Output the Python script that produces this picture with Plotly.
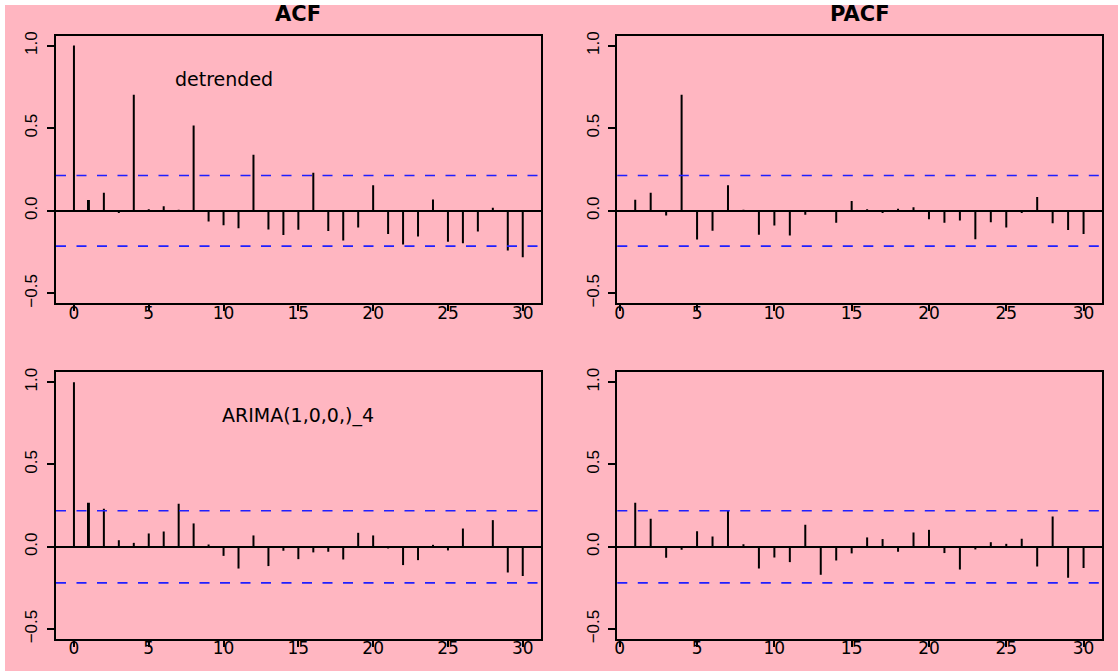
import plotly.graph_objects as go

# Sample ACF / PACF of the detrended series and of the ARIMA(1,0,0)_4 residuals
acf_lags = list(range(0, 31))
pacf_lags = list(range(1, 31))

acf_detrended = [1.0, 0.065, 0.109, -0.014, 0.703, 0.010, 0.028, 0.002, 0.517, -0.065,
                 -0.087, -0.105, 0.339, -0.113, -0.147, -0.115, 0.230, -0.123, -0.180, -0.101,
                 0.154, -0.141, -0.204, -0.156, 0.069, -0.188, -0.196, -0.125, 0.018, -0.240,
                 -0.281]
pacf_detrended = [0.067, 0.109, -0.028, 0.703, -0.174, -0.121, 0.154, 0.006, -0.145, -0.089,
                  -0.149, -0.024, -0.002, -0.073, 0.059, 0.010, -0.014, 0.012, 0.022, -0.051,
                  -0.073, -0.059, -0.172, -0.069, -0.101, -0.014, 0.083, -0.075, -0.117, -0.141]
acf_arima = [1.0, 0.267, 0.231, 0.040, 0.024, 0.081, 0.093, 0.261, 0.142, 0.014,
             -0.055, -0.132, 0.069, -0.117, -0.024, -0.075, -0.034, -0.030, -0.077, 0.085,
             0.069, -0.010, -0.111, -0.081, 0.012, -0.022, 0.111, -0.002, 0.162, -0.156,
             -0.178]
pacf_arima = [0.267, 0.170, -0.067, -0.018, 0.095, 0.063, 0.217, 0.016, -0.132, -0.065,
              -0.093, 0.134, -0.170, -0.083, -0.040, 0.057, 0.047, -0.030, 0.087, 0.103,
              -0.038, -0.138, -0.016, 0.028, 0.018, 0.049, -0.119, 0.184, -0.188, -0.128]

# 95% white-noise bounds for each row
ci_detrended = 0.214
ci_arima = 0.219

col_titles = ["ACF", "PACF"]
row_labels = ["detrended", "ARIMA(1,0,0,)_4"]
x_ticks = [0, 5, 10, 15, 20, 25, 30]
y_ticks = [-0.5, 0.0, 0.5, 1.0]

W, H = 1118, 671
PINK = "#FFB6C1"
BLUE = "#1f1fff"

# panel boxes in pixels: (left, right) per column, (top, bottom) per row
cols_px = [(56.0, 540.7), (617.3, 1101.5)]
rows_px = [(35.7, 303.3), (372.3, 639.0)]

panels = [
    (0, 0, acf_lags, acf_detrended, ci_detrended, [-1.2, 31.2]),
    (0, 1, pacf_lags, pacf_detrended, ci_detrended, [-0.16, 31.16]),
    (1, 0, acf_lags, acf_arima, ci_arima, [-1.2, 31.2]),
    (1, 1, pacf_lags, pacf_arima, ci_arima, [-0.16, 31.16]),
]

fig = go.Figure()
layout = dict(
    width=W, height=H, autosize=False,
    margin=dict(l=0, r=0, t=0, b=0),
    paper_bgcolor=PINK, plot_bgcolor=PINK,
    showlegend=False,
    font=dict(family="DejaVu Sans", color="black"),
    shapes=[], annotations=[],
)

for i, (r, c, lags, vals, ci, xr) in enumerate(panels, start=1):
    xa = "x" if i == 1 else f"x{i}"
    ya = "y" if i == 1 else f"y{i}"
    xl, xrgt = cols_px[c]
    yt, yb = rows_px[r]
    px_per_lag = (xrgt - xl) / (xr[1] - xr[0])

    fig.add_trace(go.Bar(
        x=lags, y=vals, width=2.0 / px_per_lag,
        marker=dict(color="black", line=dict(width=0)),
        xaxis=xa, yaxis=ya, hoverinfo="x+y",
    ))

    layout[f"xaxis{'' if i == 1 else i}"] = dict(
        domain=[xl / W, xrgt / W], range=xr, anchor=ya,
        tickmode="array", tickvals=x_ticks,
        ticks="outside", ticklen=6, tickwidth=1.5, tickcolor="black",
        ticklabelstandoff=-13,
        tickfont=dict(family="DejaVu Sans", size=17, color="black"),
        showline=True, mirror=True, linewidth=2, linecolor="black",
        showgrid=False, zeroline=False, automargin=False, fixedrange=True,
    )
    layout[f"yaxis{'' if i == 1 else i}"] = dict(
        domain=[(H - yb) / H, (H - yt) / H], range=[-0.56, 1.06], anchor=xa,
        tickmode="array", tickvals=y_ticks, tickformat=".1f",
        ticks="outside", ticklen=7, tickwidth=1.5, tickcolor="black",
        tickangle=-90, ticklabelstandoff=3,
        tickfont=dict(family="Liberation Sans", size=17, color="black"),
        showline=True, mirror=True, linewidth=2, linecolor="black",
        showgrid=False, zeroline=True, zerolinecolor="black", zerolinewidth=1.6,
        automargin=False, fixedrange=True,
    )

    for yv in (ci, -ci):
        layout["shapes"].append(dict(
            type="line", xref=f"{xa} domain", yref=ya,
            x0=0, x1=1, y0=yv, y1=yv,
            line=dict(color=BLUE, width=1.6, dash="10px,10.5px"),
        ))

    if r == 0:
        layout["annotations"].append(dict(
            text=f"<b>{col_titles[c]}</b>", xref="paper", yref="paper",
            x=(xl + xrgt) / 2 / W, y=1 - 14 / H,
            xanchor="center", yanchor="middle", showarrow=False,
            font=dict(family="DejaVu Sans", size=21, color="black"),
        ))
    if c == 0:
        layout["annotations"].append(dict(
            text=row_labels[r], xref=xa, yref=ya,
            x=10 if r == 0 else 15, y=0.8,
            xanchor="center", yanchor="middle", showarrow=False,
            font=dict(family="DejaVu Sans", size=19, color="black"),
        ))

# thin white border along the top and left edges of the canvas
layout["shapes"] += [
    dict(type="rect", xref="paper", yref="paper", x0=0, x1=5 / W, y0=0, y1=1,
         fillcolor="white", line=dict(width=0), layer="below"),
    dict(type="rect", xref="paper", yref="paper", x0=0, x1=1, y0=1 - 5 / H, y1=1,
         fillcolor="white", line=dict(width=0), layer="below"),
]

fig.update_layout(**layout)
fig.write_html("out.html")
